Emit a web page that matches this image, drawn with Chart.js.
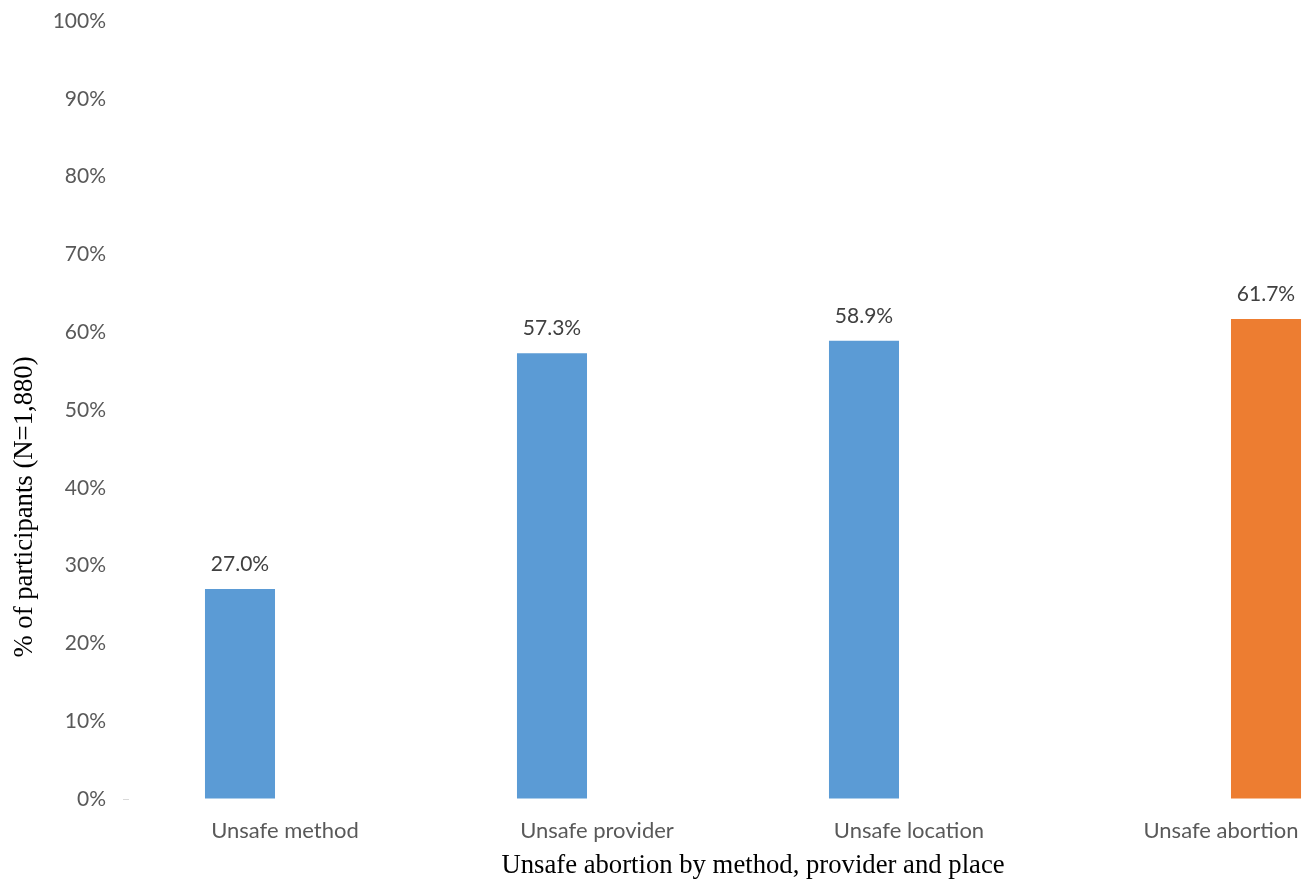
<!DOCTYPE html>
<html>
<head>
<meta charset="utf-8">
<title>Unsafe abortion by method, provider and place</title>
<script src="https://cdn.jsdelivr.net/npm/chart.js"></script>
<style>
  html, body { margin: 0; padding: 0; background: #fff; overflow: hidden; }
  /* the original figure is cut off on the right, so the canvas is wider than the window */
  .chart-box { position: absolute; left: 0; top: 0; width: 1380px; height: 882px; }
</style>
</head>
<body>
<div class="chart-box"><canvas id="abortionChart"></canvas></div>
<script>
const categories = ['Unsafe method', 'Unsafe provider', 'Unsafe location', 'Unsafe abortion'];
const componentValues = [27.0, 57.3, 58.9, null];
const overallValues = [null, null, null, 61.7];
const yTicks = [0, 10, 20, 30, 40, 50, 60, 70, 80, 90, 100];

const BLUE = '#5B9BD5';
const ORANGE = '#ED7D31';
const GREY_TEXT = '#595959';
const LABEL_FONT = 'Lato, "Open Sans", sans-serif';
const SERIF = '"Liberation Serif", "Times New Roman", serif';

// value labels above each bar
const barLabels = {
  id: 'barLabels',
  afterDatasetsDraw(chart) {
    const ctx = chart.ctx;
    ctx.save();
    ctx.font = '21px ' + LABEL_FONT;
    ctx.fillStyle = '#404040';
    ctx.textAlign = 'center';
    ctx.textBaseline = 'middle';
    chart.data.datasets.forEach((ds, i) => {
      chart.getDatasetMeta(i).data.forEach((bar, j) => {
        const v = ds.data[j];
        if (v === null) return;
        ctx.fillText(v.toFixed(1) + '%', bar.x, bar.y - 25);
      });
    });
    ctx.restore();
  }
};

// y title sits lower than the axis centre in the original
const yTitle = {
  id: 'yTitle',
  afterDraw(chart) {
    const ctx = chart.ctx;
    ctx.save();
    ctx.translate(25, 507);
    ctx.rotate(-Math.PI / 2);
    ctx.font = '26.7px ' + SERIF;
    ctx.fillStyle = '#000';
    ctx.textAlign = 'center';
    ctx.textBaseline = 'middle';
    ctx.fillText('% of participants (N=1,880)', 0, 0);
    ctx.restore();
  }
};

new Chart(document.getElementById('abortionChart'), {
  type: 'bar',
  data: {
    labels: categories,
    datasets: [
      {
        label: 'Components',
        data: componentValues,
        backgroundColor: BLUE,
        categoryPercentage: 0.577,
        barPercentage: 0.778
      },
      {
        label: 'Unsafe abortion',
        data: overallValues,
        backgroundColor: ORANGE,
        categoryPercentage: 0.577,
        barPercentage: 0.778
      }
    ]
  },
  options: {
    responsive: true,
    maintainAspectRatio: false,
    animation: false,
    layout: { padding: { top: 21, right: 3, bottom: 0, left: 0 } },
    plugins: {
      legend: { display: false },
      tooltip: { enabled: false }
    },
    scales: {
      x: {
        grid: { display: false, drawTicks: false },
        border: { display: false },
        ticks: { color: GREY_TEXT, font: { family: LABEL_FONT, size: 22 }, padding: 19, maxRotation: 0 },
        title: {
          display: true,
          text: 'Unsafe abortion by method, provider and place',
          color: '#000',
          font: { family: SERIF, size: 26.7 },
          padding: { top: 0, bottom: 0 }
        },
        afterFit(scale) { scale.height = 83; }
      },
      y: {
        min: 0,
        max: 100,
        afterBuildTicks(scale) { scale.ticks = yTicks.map(v => ({ value: v })); },
        grid: {
          drawOnChartArea: false,
          drawTicks: true,
          tickLength: 6,
          tickColor: c => (c.tick && c.tick.value === 0 ? '#D9D9D9' : 'rgba(0,0,0,0)')
        },
        border: { display: false },
        ticks: {
          color: GREY_TEXT,
          font: { family: LABEL_FONT, size: 21 },
          padding: 17,
          callback: v => v + '%'
        },
        afterFit(scale) {
          scale.width = 129;
          scale.paddingTop = 0;
          scale.paddingBottom = 0;
        }
      }
    }
  },
  plugins: [barLabels, yTitle]
});
</script>
</body>
</html>
